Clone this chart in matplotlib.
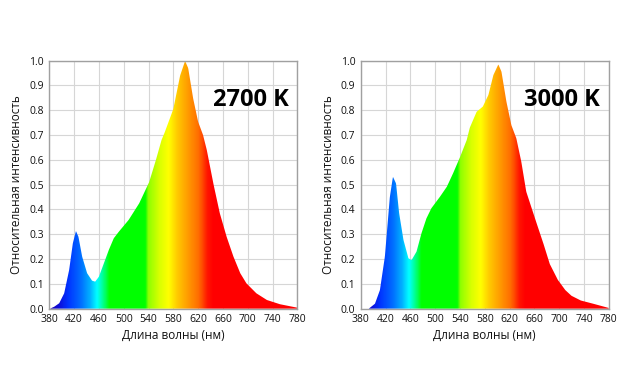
import numpy as np
import matplotlib
matplotlib.use("Agg")
import matplotlib.pyplot as plt
from matplotlib.colors import LinearSegmentedColormap

# ---- data ----
wl_2700 = [381, 388, 396, 404, 412, 418, 423, 427, 433, 441, 449, 454, 460, 468, 476, 484,
           492, 508, 525, 541, 552, 561, 566, 580, 591, 599, 604, 612, 620, 628, 634, 645,
           655, 666, 677, 688, 698, 714, 731, 752, 780]
int_2700 = [0.0, 0.008, 0.022, 0.062, 0.156, 0.264, 0.313, 0.29, 0.21, 0.143, 0.113, 0.109,
            0.129, 0.183, 0.237, 0.284, 0.31, 0.358, 0.425, 0.51, 0.6, 0.68, 0.71, 0.805,
            0.94, 0.999, 0.97, 0.848, 0.754, 0.70, 0.64, 0.50, 0.385, 0.29, 0.21, 0.143,
            0.102, 0.062, 0.035, 0.018, 0.004]

wl_3000 = [393, 403, 411, 419, 427, 432, 437, 442, 449, 457, 462, 470, 478, 486, 494, 508,
           519, 529, 540, 551, 556, 567, 577, 586, 594, 602, 607, 615, 623, 631, 639, 647,
           663, 675, 685, 698, 710, 720, 735, 755, 780]
int_3000 = [0.0, 0.02, 0.075, 0.21, 0.45, 0.532, 0.505, 0.385, 0.277, 0.203, 0.196, 0.23,
            0.304, 0.364, 0.405, 0.452, 0.492, 0.546, 0.61, 0.68, 0.73, 0.794, 0.815, 0.862,
            0.942, 0.985, 0.956, 0.835, 0.74, 0.687, 0.593, 0.472, 0.35, 0.26, 0.18, 0.116,
            0.075, 0.052, 0.033, 0.02, 0.003]

labels = ["2700 K", "3000 K"]
x_ticks = list(range(380, 781, 40))
y_ticks = [i / 10 for i in range(11)]
x_label = "Длина волны (нм)"
y_label = "Относительная интенсивность"

# spectrum colour stops (nm, rgb)
stops = [(380, (0.10, 0.0, 0.70)), (395, (0.05, 0.05, 0.85)), (410, (0.0, 0.2, 1.0)),
         (430, (0.0, 0.42, 1.0)), (445, (0.0, 0.68, 1.0)), (457, (0.0, 1.0, 1.0)),
         (467, (0.0, 1.0, 0.55)), (477, (0.0, 1.0, 0.0)), (535, (0.0, 1.0, 0.0)),
         (540, (0.55, 1.0, 0.0)), (558, (0.85, 1.0, 0.0)), (573, (1.0, 1.0, 0.0)),
         (588, (1.0, 0.78, 0.0)), (605, (1.0, 0.6, 0.0)), (622, (1.0, 0.42, 0.0)),
         (636, (1.0, 0.08, 0.0)), (645, (1.0, 0.0, 0.0)), (780, (1.0, 0.0, 0.0))]

plt.rcParams['font.family'] = ['Open Sans', 'DejaVu Sans']

cmap = LinearSegmentedColormap.from_list(
    "spec", [((w - 380) / 400, c) for w, c in stops])

fig = plt.figure(figsize=(6.3, 3.9), dpi=100)
ax_pos = [[49.3 / 630, 0.2085, 248 / 630, 248 / 390],
          [360.7 / 630, 0.2085, 248 / 630, 248 / 390]]
datasets = [(wl_2700, int_2700), (wl_3000, int_3000)]

for pos, (wl, iy), lab in zip(ax_pos, datasets, labels):
    ax = fig.add_axes(pos)
    x = np.linspace(wl[0], wl[-1], 800)
    y = np.interp(x, wl, iy)
    grad = np.linspace(0, 1, 800).reshape(1, -1)
    im = ax.imshow(grad, extent=[380, 780, 0, 1.0], aspect='auto', cmap=cmap,
                   origin='lower', zorder=2, interpolation='bilinear')
    poly = ax.fill_between(x, 0, y, facecolor='none', edgecolor='none', zorder=2)
    im.set_clip_path(poly.get_paths()[0], transform=ax.transData)
    ax.set_xlim(380, 780)
    ax.set_ylim(0, 1.0)
    ax.set_xticks(x_ticks)
    ax.set_yticks(y_ticks)
    ax.set_yticklabels([f"{v:.1f}" for v in y_ticks])
    ax.tick_params(length=0, labelsize=7.5, pad=4, colors='#111111')
    ax.grid(True, color='#d6d6d6', linewidth=0.8, zorder=0)
    ax.set_axisbelow(True)
    for s in ax.spines.values():
        s.set_color('#a0a0a0')
        s.set_linewidth(1.0)
    ax.set_xlabel(x_label, fontsize=8.5, color='#111111')
    ax.set_ylabel(y_label, fontsize=8.5, color='#111111')
    ax.xaxis.set_label_coords(0.5, -0.08)
    ax.yaxis.set_label_coords(-0.105, 0.5)
    ax.text(0.965, 0.84, lab, transform=ax.transAxes, ha='right', va='center',
            fontsize=17, fontweight='bold', color='black', zorder=5)

fig.savefig("out.png", dpi=100)
